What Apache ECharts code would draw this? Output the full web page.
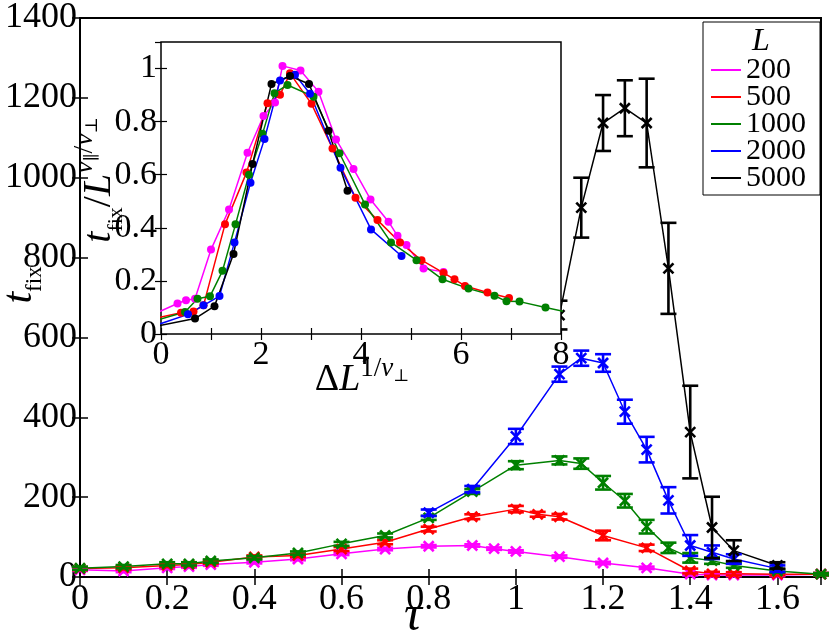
<!DOCTYPE html>
<html>
<head>
<meta charset="utf-8">
<script src="https://cdn.jsdelivr.net/npm/echarts@6/dist/echarts.min.js"></script>
<style>
html, body { margin: 0; padding: 0; background: #fff; }
#chart { width: 830px; height: 637px; }
</style>
</head>
<body>
<div id="chart"></div>
<script>
// main panel: t_fix vs tau for each L
var tau200 = [0, 0.1, 0.2, 0.25, 0.3, 0.4, 0.5, 0.6, 0.7, 0.8, 0.9, 0.95, 1.0, 1.1, 1.2, 1.3, 1.4, 1.45, 1.5, 1.6, 1.7];
var tfix200 = [18, 15, 23, 26, 31, 37, 45, 58, 70, 77, 79, 71, 64, 51, 35, 23, 7, 5, 5, 5, 7];
var err200 = [3, 3, 3, 3, 3, 3, 3, 3, 3, 3, 3, 3, 3, 3, 3, 3, 3, 3, 3, 3, 3];

var tau500 = [0, 0.1, 0.2, 0.25, 0.3, 0.4, 0.5, 0.6, 0.7, 0.8, 0.9, 1.0, 1.05, 1.1, 1.2, 1.3, 1.4, 1.45, 1.5, 1.6, 1.7];
var tfix500 = [21, 23, 29, 31, 37, 50, 54, 70, 87, 120, 151, 170, 157, 151, 104, 73, 15, 8, 8, 7, 7];
var err500 = [4, 4, 4, 4, 4, 4, 4, 5, 5, 6, 6, 8, 6, 7, 12, 8, 6, 5, 4, 3, 3];

var tau1000 = [0, 0.1, 0.2, 0.25, 0.3, 0.4, 0.5, 0.6, 0.7, 0.8, 0.9, 1.0, 1.1, 1.15, 1.2, 1.25, 1.3, 1.35, 1.4, 1.45, 1.5, 1.6, 1.7];
var tfix1000 = [22, 26, 33, 33, 40, 48, 60, 83, 104, 148, 214, 280, 292, 284, 236, 191, 126, 73, 48, 41, 29, 15, 7];
var err1000 = [4, 4, 4, 4, 4, 4, 4, 5, 5, 5, 6, 10, 10, 13, 17, 17, 17, 13, 12, 8, 6, 4, 3];

var tau2000 = [0.8, 0.9, 1.0, 1.1, 1.15, 1.2, 1.25, 1.3, 1.35, 1.4, 1.45, 1.5, 1.6];
var tfix2000 = [161, 220, 352, 508, 548, 536, 414, 319, 192, 79, 62, 45, 21];
var err2000 = [8, 8, 19, 19, 19, 22, 30, 32, 33, 26, 17, 12, 8];

var tau5000 = [1.1, 1.15, 1.2, 1.25, 1.3, 1.35, 1.4, 1.45, 1.5, 1.6];
var tfix5000 = [656, 925, 1137, 1174, 1137, 773, 363, 124, 66, 29];
var err5000 = [36, 75, 70, 70, 111, 114, 116, 77, 26, 8];

// inset: scaled data
var dx200 = [-0.3, 0.33, 0.5, 0.68, 1.0, 1.36, 1.73, 2.05, 2.28, 2.43, 2.79, 3.15, 3.5, 3.85, 4.19, 4.55, 4.73, 4.91, 5.25, 5.65];
var dy200 = [0.061, 0.115, 0.127, 0.133, 0.318, 0.469, 0.683, 0.821, 0.872, 1.010, 0.993, 0.913, 0.733, 0.622, 0.507, 0.423, 0.370, 0.335, 0.247, 0.234];

var dx500 = [-0.3, 0.4, 0.65, 0.85, 1.28, 1.71, 2.13, 2.38, 2.58, 3.01, 3.43, 3.89, 4.33, 4.78, 5.21, 5.65, 5.87, 6.08, 6.53, 6.96];
var dy500 = [0.052, 0.08, 0.085, 0.108, 0.413, 0.608, 0.869, 0.901, 0.982, 0.867, 0.699, 0.513, 0.429, 0.345, 0.278, 0.230, 0.206, 0.181, 0.156, 0.136];

var dx1000 = [-0.3, 0.48, 0.73, 0.98, 1.23, 1.49, 1.76, 2.03, 2.27, 2.53, 3.05, 3.57, 4.08, 4.6, 5.11, 5.63, 6.15, 6.67, 6.91, 7.17, 7.69, 8.3];
var dy1000 = [0.04, 0.083, 0.133, 0.142, 0.238, 0.413, 0.6, 0.754, 0.907, 0.938, 0.894, 0.681, 0.488, 0.345, 0.278, 0.206, 0.171, 0.144, 0.123, 0.122, 0.1, 0.075];

var dx2000 = [-0.3, 0.54, 0.85, 1.17, 1.47, 1.79, 2.07, 2.38, 2.68, 2.98, 3.59, 4.2, 4.81];
var dy2000 = [0.02, 0.074, 0.108, 0.143, 0.345, 0.570, 0.735, 0.955, 0.977, 0.905, 0.626, 0.394, 0.294];

var dx5000 = [-0.3, 0.68, 1.07, 1.45, 1.83, 2.21, 2.58, 2.96, 3.35, 3.73];
var dy5000 = [0.022, 0.058, 0.105, 0.301, 0.640, 0.942, 0.972, 0.942, 0.766, 0.540];

var names = ['200', '500', '1000', '2000', '5000'];
var colors = ['#ff00ff', '#ff0000', '#008000', '#0000ff', '#000000'];
var mainSets = [
  [tau200, tfix200, err200],
  [tau500, tfix500, err500],
  [tau1000, tfix1000, err1000],
  [tau2000, tfix2000, err2000],
  [tau5000, tfix5000, err5000]
];
var insetSets = [[dx200, dy200], [dx500, dy500], [dx1000, dy1000], [dx2000, dy2000], [dx5000, dy5000]];

var font = "'Liberation Serif', 'DejaVu Serif', serif";

function zip(a, b, c) {
  return a.map(function (v, i) { return c ? [v, b[i], c[i]] : [v, b[i]]; });
}

// error bar + x marker
function renderErr(params, api) {
  var x = api.value(0), y = api.value(1), e = api.value(2);
  var c = api.coord([x, y]);
  var lo = api.coord([x, y - e])[1];
  var hi = api.coord([x, y + e])[1];
  var w = 8, m = 5;
  var st = { stroke: api.visual('color'), lineWidth: 2.6, fill: null };
  return {
    type: 'group',
    children: [
      { type: 'line', shape: { x1: c[0], y1: lo, x2: c[0], y2: hi }, style: st },
      { type: 'line', shape: { x1: c[0] - w, y1: lo, x2: c[0] + w, y2: lo }, style: st },
      { type: 'line', shape: { x1: c[0] - w, y1: hi, x2: c[0] + w, y2: hi }, style: st },
      { type: 'line', shape: { x1: c[0] - m, y1: c[1] - m, x2: c[0] + m, y2: c[1] + m }, style: st },
      { type: 'line', shape: { x1: c[0] - m, y1: c[1] + m, x2: c[0] + m, y2: c[1] - m }, style: st }
    ]
  };
}

var series = [];
mainSets.forEach(function (s, i) {
  series.push({
    name: names[i], type: 'line', xAxisIndex: 0, yAxisIndex: 0,
    data: zip(s[0], s[1]), symbol: 'none', z: 2,
    lineStyle: { color: colors[i], width: 1.5 }, itemStyle: { color: colors[i] }
  });
  series.push({
    name: 'err' + names[i], type: 'custom', xAxisIndex: 0, yAxisIndex: 0,
    data: zip(s[0], s[1], s[2]), renderItem: renderErr, z: 3,
    itemStyle: { color: colors[i] }
  });
});
insetSets.forEach(function (s, i) {
  series.push({
    name: names[i], type: 'line', xAxisIndex: 2, yAxisIndex: 2,
    data: zip(s[0], s[1]), symbol: 'circle', symbolSize: 8, z: 7,
    lineStyle: { color: colors[i], width: 1.5 }, itemStyle: { color: colors[i] }
  });
});

var mainLbl = { fontFamily: font, fontSize: 36, color: '#000' };
var insetLbl = { fontFamily: font, fontSize: 34, color: '#000' };
var plain = function (v) { return String(+v.toFixed(2)); };

var option = {
  animation: false,
  backgroundColor: '#fff',
  grid: [
    { left: 80, right: 9, top: 14, bottom: 60, show: true, borderColor: '#000', borderWidth: 2, backgroundColor: 'transparent' },
    { left: 161, right: 269, top: 42, bottom: 303, show: true, borderColor: '#000', borderWidth: 1.5, backgroundColor: '#fff', z: 5 }
  ],
  xAxis: [
    { gridIndex: 0, type: 'value', min: 0, max: 1.7, interval: 0.2, position: 'bottom',
      axisLine: { show: false }, splitLine: { show: false },
      axisTick: { inside: true, length: 8, lineStyle: { color: '#000', width: 1.5 } },
      axisLabel: Object.assign({ margin: 5, showMaxLabel: false, formatter: plain }, mainLbl) },
    { gridIndex: 0, type: 'value', min: 0, max: 1.7, interval: 0.2, position: 'top',
      axisLine: { show: false }, splitLine: { show: false }, axisLabel: { show: false },
      axisTick: { inside: true, length: 8, lineStyle: { color: '#000', width: 1.5 } } },
    { gridIndex: 1, type: 'value', min: 0, max: 8, interval: 1, position: 'bottom', z: 6,
      axisLine: { show: false }, splitLine: { show: false },
      axisTick: { inside: true, length: 6, lineStyle: { color: '#000', width: 1.2 } },
      axisLabel: Object.assign({ margin: 4, formatter: function (v) { return v % 2 === 0 ? String(v) : ''; } }, insetLbl) },
    { gridIndex: 1, type: 'value', min: 0, max: 8, interval: 1, position: 'top', z: 6,
      axisLine: { show: false }, splitLine: { show: false }, axisLabel: { show: false },
      axisTick: { inside: true, length: 6, lineStyle: { color: '#000', width: 1.2 } } }
  ],
  yAxis: [
    { gridIndex: 0, type: 'value', min: 0, max: 1400, interval: 200, position: 'left',
      axisLine: { show: false }, splitLine: { show: false },
      axisTick: { inside: true, length: 8, lineStyle: { color: '#000', width: 1.5 } },
      axisLabel: Object.assign({ margin: 3, formatter: plain }, mainLbl) },
    { gridIndex: 0, type: 'value', min: 0, max: 1400, interval: 200, position: 'right',
      axisLine: { show: false }, splitLine: { show: false }, axisLabel: { show: false },
      axisTick: { inside: true, length: 8, lineStyle: { color: '#000', width: 1.5 } } },
    { gridIndex: 1, type: 'value', min: 0, max: 1.1, interval: 0.2, position: 'left', z: 6,
      axisLine: { show: false }, splitLine: { show: false },
      axisTick: { inside: true, length: 6, lineStyle: { color: '#000', width: 1.2 } },
      axisLabel: Object.assign({ margin: 4, showMaxLabel: false, formatter: plain }, insetLbl) },
    { gridIndex: 1, type: 'value', min: 0, max: 1.1, interval: 0.2, position: 'right', z: 6,
      axisLine: { show: false }, splitLine: { show: false }, axisLabel: { show: false },
      axisTick: { inside: true, length: 6, lineStyle: { color: '#000', width: 1.2 } } }
  ],
  legend: {
    data: names, orient: 'vertical', left: 703, top: 22, z: 10,
    icon: 'rect', itemWidth: 30, itemHeight: 2, itemGap: -3,
    backgroundColor: '#fff', borderColor: '#000', borderWidth: 1,
    padding: [33, 14, 2, 8],
    textStyle: { fontFamily: font, fontSize: 30, color: '#000' }
  },
  graphic: [
    { type: 'text', x: 761, y: 42, z: 20,
      style: { text: 'L', fontFamily: font, fontStyle: 'italic', fontSize: 32, fill: '#000', align: 'center', verticalAlign: 'middle' } },
    { type: 'text', x: 413, y: 617, z: 20,
      style: { text: 'τ', fontFamily: font, fontStyle: 'italic', fontSize: 50, fill: '#000', align: 'center', verticalAlign: 'middle' } },
    { type: 'text', x: 20, y: 285, rotation: Math.PI / 2, z: 20,
      style: { text: '{t|t}{s|fix}', align: 'center', verticalAlign: 'middle',
        rich: { t: { fontFamily: font, fontStyle: 'italic', fontSize: 42, lineHeight: 52, fill: '#000' },
                s: { fontFamily: font, fontSize: 23, verticalAlign: 'bottom', lineHeight: 23, fill: '#000' } } } },
    { type: 'text', x: 99, y: 180, rotation: Math.PI / 2, z: 20,
      style: { text: '{t|t}{s|fix}{b|/}{L|L}{n|ν}{p|∥}{q|/}{n|ν}{p|⊥}', align: 'center', verticalAlign: 'middle',
        rich: { t: { fontFamily: font, fontStyle: 'italic', fontSize: 40, lineHeight: 56, fill: '#000' },
                s: { fontFamily: font, fontSize: 22, verticalAlign: 'bottom', lineHeight: 22, fill: '#000' },
                b: { fontFamily: font, fontSize: 40, lineHeight: 56, fill: '#000' },
                L: { fontFamily: font, fontStyle: 'italic', fontSize: 40, lineHeight: 56, fill: '#000' },
                n: { fontFamily: font, fontStyle: 'italic', fontSize: 28, verticalAlign: 'top', lineHeight: 28, fill: '#000' },
                q: { fontFamily: font, fontSize: 28, verticalAlign: 'top', lineHeight: 28, fill: '#000' },
                p: { fontFamily: font, fontSize: 17, verticalAlign: 'top', lineHeight: 17, padding: [13, 0, 0, 0], fill: '#000' } } } },
    { type: 'text', x: 362, y: 380, z: 20,
      style: { text: '{d|Δ}{L|L}{u|1/}{n|ν}{p|⊥}', align: 'center', verticalAlign: 'middle',
        rich: { d: { fontFamily: font, fontSize: 38, lineHeight: 50, fill: '#000' },
                L: { fontFamily: font, fontStyle: 'italic', fontSize: 38, lineHeight: 50, fill: '#000' },
                u: { fontFamily: font, fontSize: 27, verticalAlign: 'top', lineHeight: 27, fill: '#000' },
                n: { fontFamily: font, fontStyle: 'italic', fontSize: 27, verticalAlign: 'top', lineHeight: 27, fill: '#000' },
                p: { fontFamily: font, fontSize: 17, verticalAlign: 'top', lineHeight: 17, padding: [13, 0, 0, 0], fill: '#000' } } } }
  ],
  series: series
};

var chart = echarts.init(document.getElementById('chart'));
chart.setOption(option);
</script>
</body>
</html>
